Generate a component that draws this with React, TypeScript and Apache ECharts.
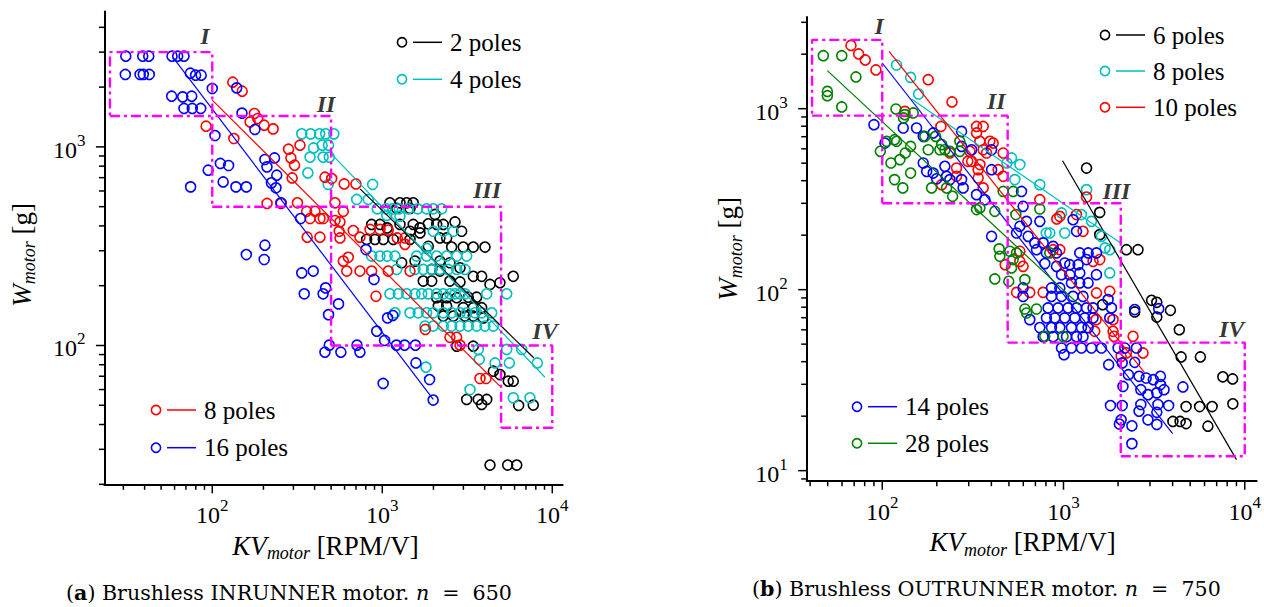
import React, { useEffect, useRef } from 'react';
import * as echarts from 'echarts';

const FONT = 'Liberation Serif, serif';
const CAPTION_FONT = 'DejaVu Serif, serif';

// ---------- Panel (a): Brushless INRUNNER ----------
const A_X_RANGE = [23.2, 11500];
const A_Y_RANGE = [20, 4800];
const A_X_MAJOR = [100, 1000, 10000];
const A_X_MINOR = [30, 40, 50, 60, 70, 80, 90, 200, 300, 400, 500, 600, 700, 800, 900, 2000, 3000, 4000, 5000, 6000, 7000, 8000, 9000];
const A_Y_MAJOR = [100, 1000];
const A_Y_MINOR = [20, 30, 40, 50, 60, 70, 80, 90, 200, 300, 400, 500, 600, 700, 800, 900, 2000, 3000, 4000];

const A_2P = [
  [1109, 523], [1271, 523], [1392, 523], [1521, 523], [1216, 490], [1456, 490], [2043, 457], [2679, 419],
  [866, 407], [969, 407], [1069, 391], [1271, 407], [1521, 407], [1667, 391], [1866, 410], [2089, 407], [2284, 407],
  [1456, 376], [1667, 369],
  [809, 342], [906, 342], [1014, 342], [1161, 342], [1456, 342], [2183, 348], [2392, 348], [2931, 376],
  [1866, 316], [2559, 313], [2995, 313], [3430, 313], [4021, 313],
  [1300, 261], [1557, 266], [2183, 266], [2500, 261],
  [1954, 241.5], [2183, 237], [2866, 246],
  [1742, 211], [1954, 211], [2500, 211], [2866, 209], [3430, 223], [3843, 223], [4302, 203], [4921, 207], [5898, 223],
  [2089, 174], [2392, 174], [2740, 174], [3206, 175], [3590, 175],
  [2135, 158], [2392, 158], [2995, 155], [3430, 155], [3843, 155],
  [2284, 140.6], [2618, 140.6], [3065, 140.6], [3430, 140.6], [3927, 137.7],
  [2740, 99.2], [3430, 99.2],
  [4500, 74.2], [4921, 71.4], [5508, 66.1], [5898, 66.1],
  [3136, 53.5], [3670, 53.5], [4115, 53.5], [3843, 50.5], [7730, 50.1], [6340, 49.9],
  [4302, 25], [5465, 25], [6180, 25],
];

const A_4P = [
  [336, 1163], [379, 1163], [428, 1163], [465, 1163], [519, 1163],
  [394, 988], [443, 1020], [483, 1020],
  [376, 888], [449, 888], [488, 888],
  [365, 740], [481, 647], [878, 647], [707, 544], [827, 544],
  [935, 488], [1052, 488], [1151, 488], [1259, 488], [1422, 488], [1614, 488], [1824, 488], [1995, 488], [2234, 488],
  [1062, 452], [1271, 448],
  [1995, 376], [2284, 376], [2618, 376],
  [1824, 308],
  [866, 282], [969, 282], [1069, 282], [1188, 282], [1592, 282], [1824, 282], [2089, 282], [2392, 282], [2740, 282], [3136, 282],
  [1216, 241.5], [1557, 241.5], [1742, 241.5], [1954, 241.5], [2183, 241.5], [2443, 241.5], [2740, 241.5], [3065, 241.5],
  [1109, 182], [1242, 182], [1392, 182], [1557, 182], [1706, 182], [1866, 182], [2089, 182], [2284, 182], [2500, 182], [2679, 182], [2866, 182], [3065, 182], [4115, 182], [5395, 182],
  [1188, 146], [1456, 146], [1628, 146], [1824, 146], [1995, 146], [2284, 146], [2559, 146], [2866, 146], [3136, 146], [3511, 146], [3843, 146], [4401, 146],
  [1783, 125.3], [1995, 125.3], [2284, 125.3], [2559, 125.3], [2866, 125.3], [3206, 125.3], [3590, 125.3], [4021, 125.3], [4500, 125.3],
  [3670, 95.5], [3721, 85.1], [5395, 95.5], [6607, 95.5], [8166, 81.7], [4605, 81.7], [5590, 81.7], [1807, 77.8],
  [3281, 60], [5898, 54.5], [7391, 54.5],
];

const A_8P = [
  [132, 2117], [150, 1908], [92, 1271], [134, 1102], [177, 1473], [167, 1336], [185, 1390], [202, 1286], [228, 1232],
  [281, 974], [328, 1020], [290, 880], [305, 809], [295, 698], [210, 519], [254, 519], [317, 523], [362, 351],
  [460, 704], [504, 693], [597, 651], [700, 651], [527, 523], [359, 474], [402, 474], [590, 474],
  [376, 436], [430, 436], [450, 436], [527, 426], [564, 419], [558, 376], [675, 379], [430, 351], [564, 348], [739, 351],
  [847, 384], [969, 384], [1084, 381], [1225, 348], [1360, 348], [1360, 323],
  [590, 266], [631, 278], [618, 237], [739, 237], [866, 237], [1084, 237], [1456, 237], [918, 177],
  [1791, 120.5], [2500, 110], [2739, 110], [2866, 100.4], [3757, 68.2], [4076, 68.2],
];

const A_16P = [
  [31, 2864], [39, 2864], [42.3, 2864], [58, 2864], [62.6, 2864], [68.2, 2864],
  [30.8, 2316], [37.6, 2316], [39.3, 2316], [42.6, 2316], [74.3, 2351], [79.8, 2296], [86.1, 2296],
  [57.7, 1800], [67, 1786], [75.7, 1800],
  [68.2, 1561], [76.3, 1561], [85.5, 1561],
  [100, 1968], [139.2, 1982], [103.7, 1141], [149.6, 1479], [178.2, 1224],
  [94.6, 763], [111.6, 825], [124.7, 806], [74.6, 629], [115.9, 666], [137.8, 629], [158.6, 629], [204, 864], [232.4, 880],
  [209.8, 793], [239.5, 720], [222.8, 659], [237, 622], [253.5, 523], [331, 436],
  [158.6, 287], [204, 320], [202, 271], [336, 232], [392.6, 237], [802, 304], [894, 215], [347.6, 182], [448.7, 182], [464.5, 195],
  [553, 162], [483, 143], [1074, 137.7], [1154, 141.6], [928, 118], [1032, 106], [460, 92.5], [487.8, 100.4], [571, 92.5],
  [710, 100.4], [739, 92.5], [1211, 100.4], [1353, 100.4], [1566, 100.4], [1578, 81.7], [1898, 67.4], [1012, 64.4], [1993, 53.1],
];

const A_FIT_2P = [[740, 615], [7800, 86.5]];
const A_FIT_4P = [[500, 925], [9060, 69.2]];
const A_FIT_8P = [[100, 1720], [4920, 62.4]];
const A_FIT_16P = [[59, 2805], [1995, 53.5]];

// boxes: [xMin, yMin, xMax, yMax]
const A_BOXES = [
  [25, 1430, 100, 3000],
  [100, 500, 500, 1430],
  [500, 100, 5000, 500],
  [5000, 38.5, 10000, 100],
];
const A_NUMERALS = [[90.6, 3606, 'I'], [467, 1641, 'II'], [4130, 605, 'III'], [9060, 118, 'IV']];

// ---------- Panel (b): Brushless OUTRUNNER ----------
const B_X_RANGE = [38.3, 11630];
const B_Y_RANGE = [8.8, 3210];
const B_X_MAJOR = [100, 1000, 10000];
const B_X_MINOR = [40, 50, 60, 70, 80, 90, 200, 300, 400, 500, 600, 700, 800, 900, 2000, 3000, 4000, 5000, 6000, 7000, 8000, 9000];
const B_Y_MAJOR = [10, 100, 1000];
const B_Y_MINOR = [9, 20, 30, 40, 50, 60, 70, 80, 90, 200, 300, 400, 500, 600, 700, 800, 900, 2000, 3000];

const B_6P = [
  [1340, 470], [1585, 267.3], [1585, 201.4], [2224, 166.3], [2576, 166.3], [1644, 82.6], [3060, 87.3], [3272, 85.1],
  [3272, 70.6], [3890, 76.9], [4355, 60.1], [4456, 42.5], [5690, 42.5], [4746, 22.6], [5637, 22.6], [6607, 22.6],
  [4014, 18.7], [4400, 18.7], [4746, 18.2], [6262, 17.6], [7570, 33], [8570, 32.1], [8595, 23.4], [2472, 75.3],
];

const B_8P = [
  [120, 1743], [143.4, 1489], [158.7, 1205], [516.6, 534], [574.4, 491], [539, 405.5], [740.2, 380], [487.5, 501],
  [975, 265.3], [1016, 205.6], [840.6, 205.6], [1256, 260], [1426, 238.4], [1340, 357], [1620, 197], [1799, 166.3],
  [1799, 123.7], [1698, 170], [803, 205.6],
];

const B_10P = [
  [67.2, 2237], [74.1, 2006], [80.6, 1858], [92.3, 1636], [179.3, 1446], [133.4, 966], [242.5, 1089],
  [210.7, 798], [331.3, 798], [360.4, 798], [331.3, 734], [345.7, 660], [392.4, 660], [409.2, 646],
  [304.5, 581], [360.4, 593], [376.3, 569], [464.7, 569], [236.2, 569],
  [345.7, 491], [311.1, 512], [338.2, 460], [338.2, 414], [360.4, 365], [257, 470], [257, 423], [212.6, 380], [296.5, 512], [436.1, 460], [464.7, 423],
  [740.2, 314], [1340, 325], [918.5, 246], [954.3, 254], [1282, 210], [1179.4, 260],
  [574.4, 163], [574.4, 143.3], [598.6, 134.5], [876.5, 166.3], [954.3, 166.3], [1456, 143.3], [1585, 146.6], [477, 137.4],
  [550.8, 96.6], [651.6, 96.6], [772, 96.6], [1520, 95.9], [1799, 97.9],
  [1876, 68.3], [1513.6, 68.3], [1487.6, 58.9], [1876, 58.9], [2419, 55.2], [2747, 44.7], [2224, 44.7], [1900, 55.2], [2080, 42.8],
];

const B_14P = [
  [90, 816], [103.5, 646], [130.6, 782], [154.7, 782], [168.3, 703], [191, 734],
  [168.3, 501], [175.8, 450], [191, 441], [221.7, 480], [226.5, 423], [274, 405.5], [279.6, 365], [199.5, 410], [236.2, 405.5],
  [274, 749], [311.1, 593], [274, 619], [401, 593], [401, 460],
  [331.3, 335], [368.3, 314], [401, 197], [586.8, 349], [598.6, 288.6],
  [625.3, 238.4], [740.2, 238.4], [574.4, 224], [638.3, 197], [550.8, 205.6],
  [694.8, 181.3], [772, 181.3], [876.5, 173.4], [709.8, 166.3], [805.4, 159.6], [914.6, 159.6], [1016, 140.4], [788.6, 139.3], [914.6, 134.5],
  [1129, 243.6], [1180, 210], [1230, 159.6], [1367, 159.6], [1520, 159.6], [1340, 146.6],
  [1083, 137.4], [1204, 137.4], [1230, 123.7], [1083, 121], [975, 121], [1106, 108.9], [1230, 108.9], [1367, 108.9], [1520, 121],
  [598.6, 102.2], [598.6, 91.8], [858.3, 102.2], [954.3, 102.2], [858.3, 91.8], [975, 91.8], [1129, 91.8], [1282, 91.8],
  [822.2, 79.3], [933.6, 79.3], [1060, 79.3], [1180, 79.3], [1340, 79.3], [1456, 79.3],
  [805.4, 69.8], [896, 69.8], [1016, 69.8], [1154, 69.8], [1311, 69.8], [1456, 69.8], [1799, 69.8], [651.6, 68.3],
  [740.2, 61.7], [858.3, 61.7], [954.3, 61.7], [1106, 61.7], [1256, 61.7], [1367, 61.7],
  [772, 55], [876.5, 55], [1039, 55], [1180, 55], [1282, 55],
  [975, 47.6], [1106, 47.6], [1256, 47.6], [1426, 47.6], [1620, 47.6], [2178, 47.6], [2526, 47.6], [2000, 47.6],
  [1762, 88.1], [1839, 79.3], [2472, 77.6], [3353, 78.5],
  [1007, 43.7], [1775, 38.5], [2109, 39.4], [2472, 39.7],
  [2280, 33.9], [2128, 29.2], [2611, 33.2], [2858, 32.5], [3131, 31.8], [3426, 33.2], [3426, 29.9], [3272, 26.9], [3586, 28], [2671, 28], [2924, 26.3], [4560, 29],
  [1816, 22.9], [2109, 22.9], [2671, 23.2], [3319, 23.2], [3802, 22.9], [3272, 21], [2611, 21.3],
  [2080, 19.1], [2384, 17.7], [2924, 19.1], [3272, 18], [2033, 18.1], [2384, 14.1],
];

const B_28P = [
  [47.3, 1963], [59.8, 1963], [71.6, 1497], [49.8, 1246], [49.8, 1180], [59.8, 1022],
  [97.6, 581], [111.7, 501], [116.9, 405.5], [129.9, 365], [116.9, 674], [134, 569], [143.4, 619], [143.4, 441], [125.2, 523], [105.7, 660], [120, 660],
  [119, 996], [133.4, 927], [148.2, 947], [131, 888.5],
  [171.9, 703], [196.9, 703], [179.3, 593], [212.6, 633], [236.2, 581], [208, 593], [268, 660], [268, 581], [221.7, 593],
  [187.2, 365], [226.5, 365], [244.5, 328],
  [331.3, 277], [345.7, 283], [418, 271], [464.7, 349], [527.3, 349], [545.9, 260], [740.2, 279],
  [441.6, 168], [445.5, 152.8], [505.8, 163], [527.3, 146.6], [550.8, 159.6], [840.6, 159.6],
  [418, 114.6], [516.6, 131.8], [612.2, 113.6], [498.8, 111.2],
  [612.2, 78.2], [709.8, 78.2], [625.3, 74.3], [788.6, 55.2], [995, 55.2],
];

const B_FIT_6P = [[988, 516], [9000, 11.5]];
const B_FIT_8P = [[145, 1130], [2065, 181]];
const B_FIT_10P = [[109, 2073], [2800, 34.8]];
const B_FIT_14P = [[100, 1788], [4000, 16]];
const B_FIT_28P = [[49.8, 1622], [1220, 82.6]];

const B_BOXES = [
  [41, 915, 100, 2400],
  [100, 300, 492, 915],
  [492, 51, 2070, 300],
  [2070, 12, 10000, 51],
];
const B_NUMERALS = [[96.3, 2851, 'I'], [426, 1097, 'II'], [1959, 349, 'III'], [8470, 60.7, 'IV']];

const COLORS = {
  black: '#000000',
  cyan: '#00bfbf',
  red: '#ff0000',
  blue: '#0000ff',
  green: '#008000',
  magenta: '#ff00ff',
};

const supLabel = (v: number) => {
  const e = Math.log10(v);
  const r = Math.round(e);
  if (Math.abs(e - r) > 1e-6) return '';
  return `{b|10}{e|${r}}`;
};

const labelRich = {
  b: { fontSize: 24, lineHeight: 30, verticalAlign: 'bottom', fontFamily: FONT, color: '#000' },
  e: { fontSize: 17, lineHeight: 17, verticalAlign: 'top', fontFamily: FONT, color: '#000' },
};

const nameRich = {
  i: { fontSize: 27, lineHeight: 30, verticalAlign: 'top', fontStyle: 'italic', fontFamily: FONT, color: '#000' },
  s: { fontSize: 18, lineHeight: 18, verticalAlign: 'bottom', fontStyle: 'italic', fontFamily: FONT, color: '#000' },
  t: { fontSize: 27, lineHeight: 30, verticalAlign: 'top', fontFamily: FONT, color: '#000' },
};

function makeAxis(kind: 'x' | 'y', gridIndex: number, range: number[], name: string, nameGap: number, padding: number[]) {
  return {
    type: 'log',
    logBase: 10,
    gridIndex,
    min: range[0],
    max: range[1],
    axisLine: { show: true, onZero: false, lineStyle: { color: '#000', width: 2 } },
    axisTick: { show: false },
    minorTick: { show: false },
    splitLine: { show: false },
    axisLabel: {
      formatter: supLabel,
      rich: labelRich,
      margin: kind === 'x' ? 13 : 19,
      fontFamily: FONT,
    },
    name,
    nameLocation: 'middle',
    nameGap,
    nameRotate: kind === 'y' ? 90 : 0,
    nameTextStyle: { rich: nameRich, padding, fontFamily: FONT },
  };
}

function tickSeries(gridIndex: number, kind: 'x' | 'y', values: number[], otherMin: number, len: number) {
  return {
    type: 'custom',
    xAxisIndex: gridIndex,
    yAxisIndex: gridIndex,
    silent: true,
    clip: false,
    z: 6,
    data: values.map((v) => (kind === 'x' ? [v, otherMin] : [otherMin, v])),
    renderItem: (params: any, api: any) => {
      const p = api.coord([api.value(0), api.value(1)]);
      const shape = kind === 'x'
        ? { x1: p[0], y1: p[1], x2: p[0], y2: p[1] + len }
        : { x1: p[0], y1: p[1], x2: p[0] - len, y2: p[1] };
      return { type: 'line', shape, style: { stroke: '#000', lineWidth: 1.5 } };
    },
  };
}

function scatterSeries(gridIndex: number, name: string, data: number[][], color: string) {
  return {
    type: 'scatter',
    name,
    xAxisIndex: gridIndex,
    yAxisIndex: gridIndex,
    data,
    symbol: 'circle',
    symbolSize: 10,
    silent: true,
    z: 2,
    itemStyle: { color: 'rgba(0,0,0,0)', borderColor: color, borderWidth: 1.6, opacity: 1 },
  };
}

function fitSeries(gridIndex: number, data: number[][], color: string) {
  return {
    type: 'line',
    xAxisIndex: gridIndex,
    yAxisIndex: gridIndex,
    data,
    symbol: 'none',
    silent: true,
    z: 3,
    lineStyle: { color, width: 1.2 },
  };
}

function boxSeries(gridIndex: number, boxes: number[][]) {
  return boxes.map((b) => ({
    type: 'line',
    xAxisIndex: gridIndex,
    yAxisIndex: gridIndex,
    data: [[b[0], b[1]], [b[2], b[1]], [b[2], b[3]], [b[0], b[3]], [b[0], b[1]]],
    symbol: 'none',
    silent: true,
    z: 4,
    lineStyle: { color: COLORS.magenta, width: 2.4, type: [10, 4, 3, 4] },
  }));
}

function numeralSeries(gridIndex: number, data: any[]) {
  return {
    type: 'scatter',
    xAxisIndex: gridIndex,
    yAxisIndex: gridIndex,
    data,
    symbolSize: 1,
    silent: true,
    z: 7,
    itemStyle: { color: 'rgba(0,0,0,0)' },
    label: {
      show: true,
      position: 'inside',
      formatter: (p: any) => p.data[2],
      fontSize: 24,
      fontWeight: 'bold',
      fontStyle: 'italic',
      fontFamily: FONT,
      color: '#000',
    },
  };
}

function legendGraphics(cx: number, ys: number[], labels: string[], colors: string[]) {
  const out: any[] = [];
  labels.forEach((lab, i) => {
    const y = ys[i];
    out.push({ type: 'circle', shape: { cx, cy: y, r: 4.6 }, style: { fill: 'none', stroke: colors[i], lineWidth: 1.6 }, silent: true });
    out.push({ type: 'line', shape: { x1: cx + 11, y1: y, x2: cx + 40, y2: y }, style: { stroke: colors[i], lineWidth: 1.5 }, silent: true });
    out.push({
      type: 'text', x: cx + 48, y, silent: true,
      style: { text: lab, fill: '#000', fontSize: 25, fontFamily: FONT, verticalAlign: 'middle', align: 'left' },
    });
  });
  return out;
}

const captionRich = {
  n: { fontSize: 20.6, lineHeight: 24, fontFamily: CAPTION_FONT, color: '#000' },
  b: { fontSize: 20.6, lineHeight: 24, fontFamily: CAPTION_FONT, fontWeight: 'bold', color: '#000' },
  i: { fontSize: 20.6, lineHeight: 24, fontFamily: CAPTION_FONT, fontStyle: 'italic', color: '#000' },
};

export default function App() {
  const ref = useRef<HTMLDivElement>(null);

  useEffect(() => {
    if (!ref.current) return;
    const chart = echarts.init(ref.current, undefined, { renderer: 'svg' });

    const option: any = {
      animation: false,
      backgroundColor: '#ffffff',
      textStyle: { fontFamily: FONT },
      grid: [
        { left: 104.4, top: 11.6, width: 458.2, height: 472.7 },
        { left: 806.7, top: 17.0, width: 450.3, height: 463.7 },
      ],
      xAxis: [
        makeAxis('x', 0, A_X_RANGE, '{i|KV}{s|motor}{t| [RPM/V]}', 46, [0, 16, 0, 0]),
        makeAxis('x', 1, B_X_RANGE, '{i|KV}{s|motor}{t| [RPM/V]}', 45, [0, 18, 0, 0]),
      ],
      yAxis: [
        makeAxis('y', 0, A_Y_RANGE, '{i|W}{s|motor}{t| [g]}', 66, [0, 14, 0, 0]),
        makeAxis('y', 1, B_Y_RANGE, '{i|W}{s|motor}{t| [g]}', 62, [0, 0, 0, 0]),
      ],
      series: [
        tickSeries(0, 'x', A_X_MAJOR, A_Y_RANGE[0], 9),
        tickSeries(0, 'x', A_X_MINOR, A_Y_RANGE[0], 5.5),
        tickSeries(0, 'y', A_Y_MAJOR, A_X_RANGE[0], 8.5),
        tickSeries(0, 'y', A_Y_MINOR, A_X_RANGE[0], 5.5),
        tickSeries(1, 'x', B_X_MAJOR, B_Y_RANGE[0], 9),
        tickSeries(1, 'x', B_X_MINOR, B_Y_RANGE[0], 5.5),
        tickSeries(1, 'y', B_Y_MAJOR, B_X_RANGE[0], 8.5),
        tickSeries(1, 'y', B_Y_MINOR, B_X_RANGE[0], 5.5),

        scatterSeries(0, '2 poles', A_2P, COLORS.black),
        scatterSeries(0, '4 poles', A_4P, COLORS.cyan),
        scatterSeries(0, '8 poles', A_8P, COLORS.red),
        scatterSeries(0, '16 poles', A_16P, COLORS.blue),
        fitSeries(0, A_FIT_2P, COLORS.black),
        fitSeries(0, A_FIT_4P, COLORS.cyan),
        fitSeries(0, A_FIT_8P, COLORS.red),
        fitSeries(0, A_FIT_16P, COLORS.blue),
        ...boxSeries(0, A_BOXES),
        numeralSeries(0, A_NUMERALS),

        scatterSeries(1, '6 poles', B_6P, COLORS.black),
        scatterSeries(1, '8 poles', B_8P, COLORS.cyan),
        scatterSeries(1, '10 poles', B_10P, COLORS.red),
        scatterSeries(1, '14 poles', B_14P, COLORS.blue),
        scatterSeries(1, '28 poles', B_28P, COLORS.green),
        fitSeries(1, B_FIT_6P, COLORS.black),
        fitSeries(1, B_FIT_8P, COLORS.cyan),
        fitSeries(1, B_FIT_10P, COLORS.red),
        fitSeries(1, B_FIT_14P, COLORS.blue),
        fitSeries(1, B_FIT_28P, COLORS.green),
        ...boxSeries(1, B_BOXES),
        numeralSeries(1, B_NUMERALS),
      ],
      graphic: [
        ...legendGraphics(402, [42.3, 79.3], ['2 poles', '4 poles'], [COLORS.black, COLORS.cyan]),
        ...legendGraphics(156, [410, 447.7], ['8 poles', '16 poles'], [COLORS.red, COLORS.blue]),
        ...legendGraphics(1105, [35, 71, 107.3], ['6 poles', '8 poles', '10 poles'], [COLORS.black, COLORS.cyan, COLORS.red]),
        ...legendGraphics(857, [406.7, 443.3], ['14 poles', '28 poles'], [COLORS.blue, COLORS.green]),
        {
          type: 'text', x: 66, y: 593, silent: true,
          style: { text: '{n|(}{b|a}{n|) Brushless INRUNNER motor. }{i|n}{n|  =  650}', rich: captionRich, verticalAlign: 'middle', align: 'left' },
        },
        {
          type: 'text', x: 752, y: 589, silent: true,
          style: { text: '{n|(}{b|b}{n|) Brushless OUTRUNNER motor. }{i|n}{n|  =  750}', rich: captionRich, verticalAlign: 'middle', align: 'left' },
        },
      ],
    };

    chart.setOption(option);
    return () => chart.dispose();
  }, []);

  return <div ref={ref} style={{ position: 'absolute', left: 0, top: 0, width: 1264, height: 607 }} />;
}
